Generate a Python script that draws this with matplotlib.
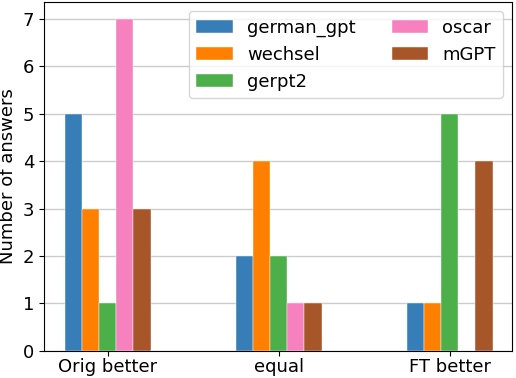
import matplotlib
matplotlib.use('Agg')
import matplotlib.pyplot as plt
import numpy as np

plt.rcParams.update({'font.size': 13})

categories = ['Orig better', 'equal', 'FT better']
models = ['german_gpt', 'wechsel', 'gerpt2', 'oscar', 'mGPT']
german_gpt = [5, 2, 1]
wechsel = [3, 4, 1]
gerpt2 = [1, 2, 5]
oscar = [7, 1, 0]
mgpt = [3, 1, 4]
colors = ['#377eb8', '#ff7f00', '#4daf4a', '#f781bf', '#a65628']

if __name__ == '__main__':
  series = [german_gpt, wechsel, gerpt2, oscar, mgpt]
  x = np.arange(len(categories))
  width = 0.1

  fig, ax = plt.subplots(figsize=(5.16, 3.78), dpi=100)
  for i, (name, vals) in enumerate(zip(models, series)):
    ax.bar(x + (i - 2) * width, vals, width, label=name, color=colors[i],
           edgecolor='white', linewidth=0.3, zorder=3)

  ax.set_xticks(x)
  ax.set_xticklabels(categories)
  ax.tick_params(axis='x', pad=2)
  ax.set_ylabel('Number of answers')
  ax.set_xlim(-0.374, 2.363)
  ax.set_ylim(0, 7.35)
  ax.yaxis.grid(True, color='#cccccc', linewidth=1, zorder=0)
  ax.set_axisbelow(True)
  ax.legend(ncol=2, loc='upper right', handlelength=2.0)

  fig.subplots_adjust(left=0.085, right=0.992, top=0.994, bottom=0.072)
  fig.savefig('out.png')
